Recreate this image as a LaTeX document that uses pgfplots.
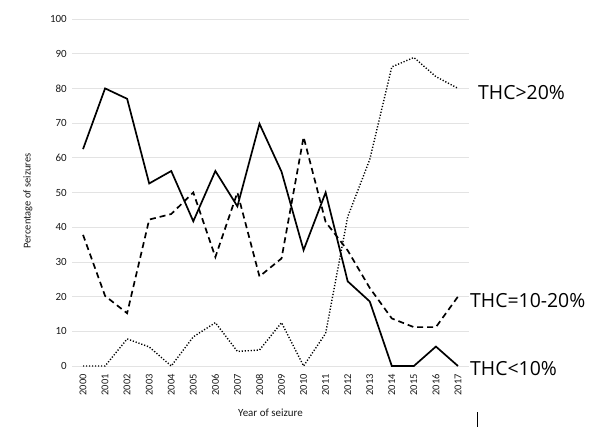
\documentclass[border=0pt]{standalone}
\usepackage{pgfplots}
\pgfplotsset{compat=1.18}
\usepackage{fontspec}
\setmainfont{Carlito}
\newfontfamily\labfont{Open Sans}
\begin{document}
\begin{tikzpicture}
\path[use as bounding box] (-72bp,-63bp) rectangle (536bp,366bp);
\begin{axis}[
  at={(0,0)}, anchor=south west,
  scale only axis, width=397bp, height=347bp,
  xmin=-0.5, xmax=17.5, ymin=0, ymax=100,
  ytick={0,10,...,100},
  xtick={0,...,17},
  xticklabels={2000,2001,2002,2003,2004,2005,2006,2007,2008,2009,2010,2011,2012,2013,2014,2015,2016,2017},
  axis line style={draw=none},
  major tick style={draw=none},
  ymajorgrids, grid style={gray!22, line width=0.8pt},
  clip=false,
  /pgf/number format/assume math mode=true,
  tick label style={text=black!90},
  yticklabel style={font=\fontsize{11}{12}\selectfont, anchor=east, inner sep=0pt, xshift=-5bp},
  xticklabel style={font=\fontsize{10.5}{12}\selectfont, rotate=90, anchor=east, inner sep=0pt},
  xticklabel shift=8bp,
]
\addplot[black, line width=1.7pt] coordinates {
(0,62.5) (1,80) (2,77) (3,52.6) (4,56.2) (5,41.7) (6,56.2) (7,46) (8,69.8) (9,56)
(10,33.4) (11,50) (12,24.4) (13,18.6) (14,0) (15,0) (16,5.6) (17,0)};
\addplot[black, line width=1.7pt, dash pattern=on 6bp off 4bp] coordinates {
(0,37.8) (1,20.2) (2,15.2) (3,42.2) (4,43.8) (5,50) (6,31.4) (7,50) (8,25.8) (9,31)
(10,66) (11,41.5) (12,33.3) (13,22.5) (14,13.7) (15,11.2) (16,11.2) (17,20)};
\addplot[black, line width=1.4pt, dash pattern=on 1.2bp off 1.8bp] coordinates {
(0,0) (1,0) (2,7.8) (3,5.5) (4,0) (5,8.4) (6,12.5) (7,4.2) (8,4.6) (9,12.5)
(10,0) (11,9.4) (12,43) (13,59.5) (14,86.2) (15,88.9) (16,83.4) (17,80)};
\end{axis}
\node[rotate=90, font=\fontsize{10.5}{12}\selectfont, text=black!90] at (-44bp,165bp) {Percentage of seizures};
\node[font=\fontsize{11}{12}\selectfont, text=black!90] at (198.5bp,-47bp) {Year of seizure};
\node[anchor=base west, inner sep=0pt, font=\labfont\fontsize{19.5}{22}\selectfont] at (406bp,266bp) {THC>20\%};
\node[anchor=base west, inner sep=0pt, font=\labfont\fontsize{19.5}{22}\selectfont] at (398bp,58bp) {THC=10-20\%};
\node[anchor=base west, inner sep=0pt, font=\labfont\fontsize{19.5}{22}\selectfont] at (398bp,-9bp) {THC<10\%};
\draw[black, line width=0.9pt] (405.7bp,-46bp) -- (405.7bp,-61bp);
\end{tikzpicture}
\end{document}
